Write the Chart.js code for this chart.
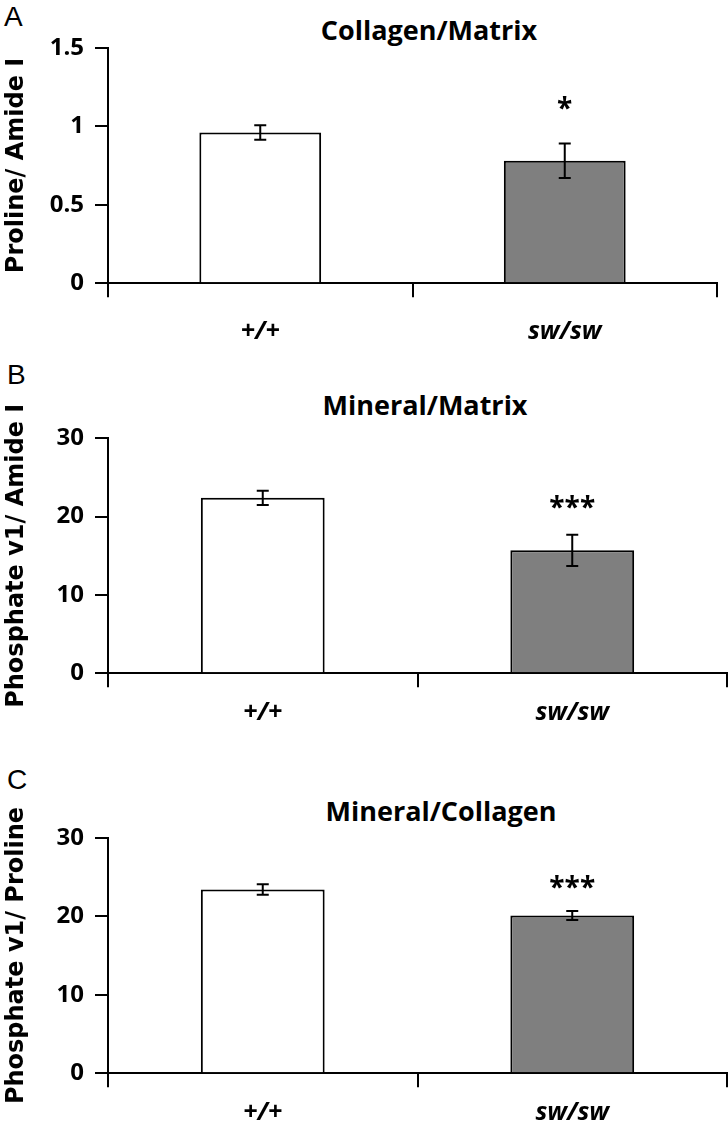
<!DOCTYPE html>
<html>
<head>
<meta charset="utf-8">
<script src="https://cdn.jsdelivr.net/npm/chart.js@4.4.0/dist/chart.umd.min.js"></script>
<style>
body { margin: 0; background: #fff; width: 728px; height: 1124px; position: relative; overflow: hidden; }
canvas { position: absolute; left: 0; }
.letter { position: absolute; font-family: "Liberation Sans", Arial, sans-serif; font-size: 28px; line-height: 28px; }
.ttl { position: absolute; font-family: "Open Sans", sans-serif; font-weight: bold; font-size: 27px; line-height: 27px; white-space: nowrap; transform: translateX(-50%); }
</style>
</head>
<body>
<div class="letter" style="left:4px;top:3px">A</div>
<div class="letter" style="left:7px;top:361px">B</div>
<div class="letter" style="left:7px;top:766px">C</div>
<div class="ttl" style="left:429px;top:16px">Collagen/Matrix</div>
<div class="ttl" style="left:425px;top:391px">Mineral/Matrix</div>
<div class="ttl" style="left:441px;top:797px">Mineral/Collagen</div>

<canvas id="chartA" width="728" height="360" style="top:0px"></canvas>
<canvas id="chartB" width="728" height="400" style="top:345px"></canvas>
<canvas id="chartC" width="728" height="410" style="top:735px"></canvas>

<script>
// genotypes
var groups = ['+/+', 'sw/sw'];

// A: collagen/matrix (proline / amide I)
var collagenMatrix = [0.96, 0.78];
var collagenMatrixErr = [0.046, 0.11];
var collagenMatrixStars = ['', '*'];

// B: mineral/matrix (phosphate v1 / amide I)
var mineralMatrix = [22.4, 15.7];
var mineralMatrixErr = [0.9, 2.0];
var mineralMatrixStars = ['', '***'];

// C: mineral/collagen (phosphate v1 / proline)
var mineralCollagen = [23.4, 20.1];
var mineralCollagenErr = [0.68, 0.57];
var mineralCollagenStars = ['', '***'];

var errorBars = {
  id: 'errorBars',
  afterDatasetsDraw: function(chart, args, opts) {
    var ctx = chart.ctx;
    var meta = chart.getDatasetMeta(0);
    var y = chart.scales.y;
    var vals = chart.data.datasets[0].data;
    ctx.save();
    ctx.strokeStyle = '#000';
    ctx.lineWidth = 2;
    for (var i = 0; i < vals.length; i++) {
      var x = meta.data[i].x;
      var top = y.getPixelForValue(vals[i] + opts.errors[i]);
      var bot = y.getPixelForValue(vals[i] - opts.errors[i]);
      ctx.beginPath();
      ctx.moveTo(x, top); ctx.lineTo(x, bot);
      ctx.moveTo(x - 6, top); ctx.lineTo(x + 6, top);
      ctx.moveTo(x - 6, bot); ctx.lineTo(x + 6, bot);
      ctx.stroke();
      if (opts.stars[i]) {
        ctx.fillStyle = '#000';
        ctx.font = 'bold 28px "Open Sans"';
        ctx.textAlign = 'center';
        ctx.textBaseline = 'middle';
        ctx.fillText(opts.stars[i], x, top - opts.starGap + 4);
      }
    }
    ctx.restore();
  }
};

function makePanel(id, values, errors, stars, yTitle, yMax, yStep, pad, labelPad, starGap) {
  return new Chart(document.getElementById(id), {
    type: 'bar',
    data: {
      labels: groups,
      datasets: [{
        data: values,
        backgroundColor: ['#ffffff', '#7f7f7f'],
        borderColor: '#000',
        borderWidth: 2,
        borderSkipped: 'start',
        barPercentage: 0.4,
        categoryPercentage: 1
      }]
    },
    options: {
      responsive: false,
      animation: false,
      layout: { padding: pad },
      plugins: {
        legend: { display: false },
        tooltip: { enabled: false },
        errorBars: { errors: errors, stars: stars, starGap: starGap }
      },
      scales: {
        x: {
          grid: { offset: true, drawOnChartArea: false, tickLength: 14, color: '#000', lineWidth: 2 },
          border: { color: '#000', width: 2 },
          ticks: {
            color: '#000',
            padding: labelPad,
            font: { family: '"Open Sans"', style: 'italic', weight: 'bold', size: 25 }
          },
          afterFit: function(s) { s.height = 70; }
        },
        y: {
          min: 0,
          max: yMax,
          grid: { drawOnChartArea: false, tickLength: 13, color: '#000', lineWidth: 2 },
          border: { color: '#000', width: 2 },
          ticks: {
            stepSize: yStep,
            color: '#000',
            padding: 11,
            font: { family: '"Open Sans"', weight: 'bold', size: 24 },
            callback: function(v) { return String(v); }
          },
          title: {
            display: true,
            text: yTitle,
            color: '#000',
            padding: { top: 2, bottom: 0 },
            font: { family: '"DejaVu Sans"', weight: 'bold', size: 24 }
          },
          afterFit: function(s) { s.width = 108; }
        }
      }
    },
    plugins: [errorBars]
  });
}

makePanel('chartA', collagenMatrix, collagenMatrixErr, collagenMatrixStars,
  'Proline/ Amide I', 1.5, 0.5,
  { top: 47.7, bottom: 6.7, left: 0, right: 11 }, 19.7, 37);
makePanel('chartB', mineralMatrix, mineralMatrixErr, mineralMatrixStars,
  'Phosphate v1/ Amide I', 30, 10,
  { top: 93.3, bottom: 1.7, left: 0, right: 1 }, 10.7, 30);
makePanel('chartC', mineralCollagen, mineralCollagenErr, mineralCollagenStars,
  'Phosphate v1/ Proline', 30, 10,
  { top: 102.7, bottom: 1.7, left: 0, right: 1 }, 10.2, 25.5);
</script>
</body>
</html>
